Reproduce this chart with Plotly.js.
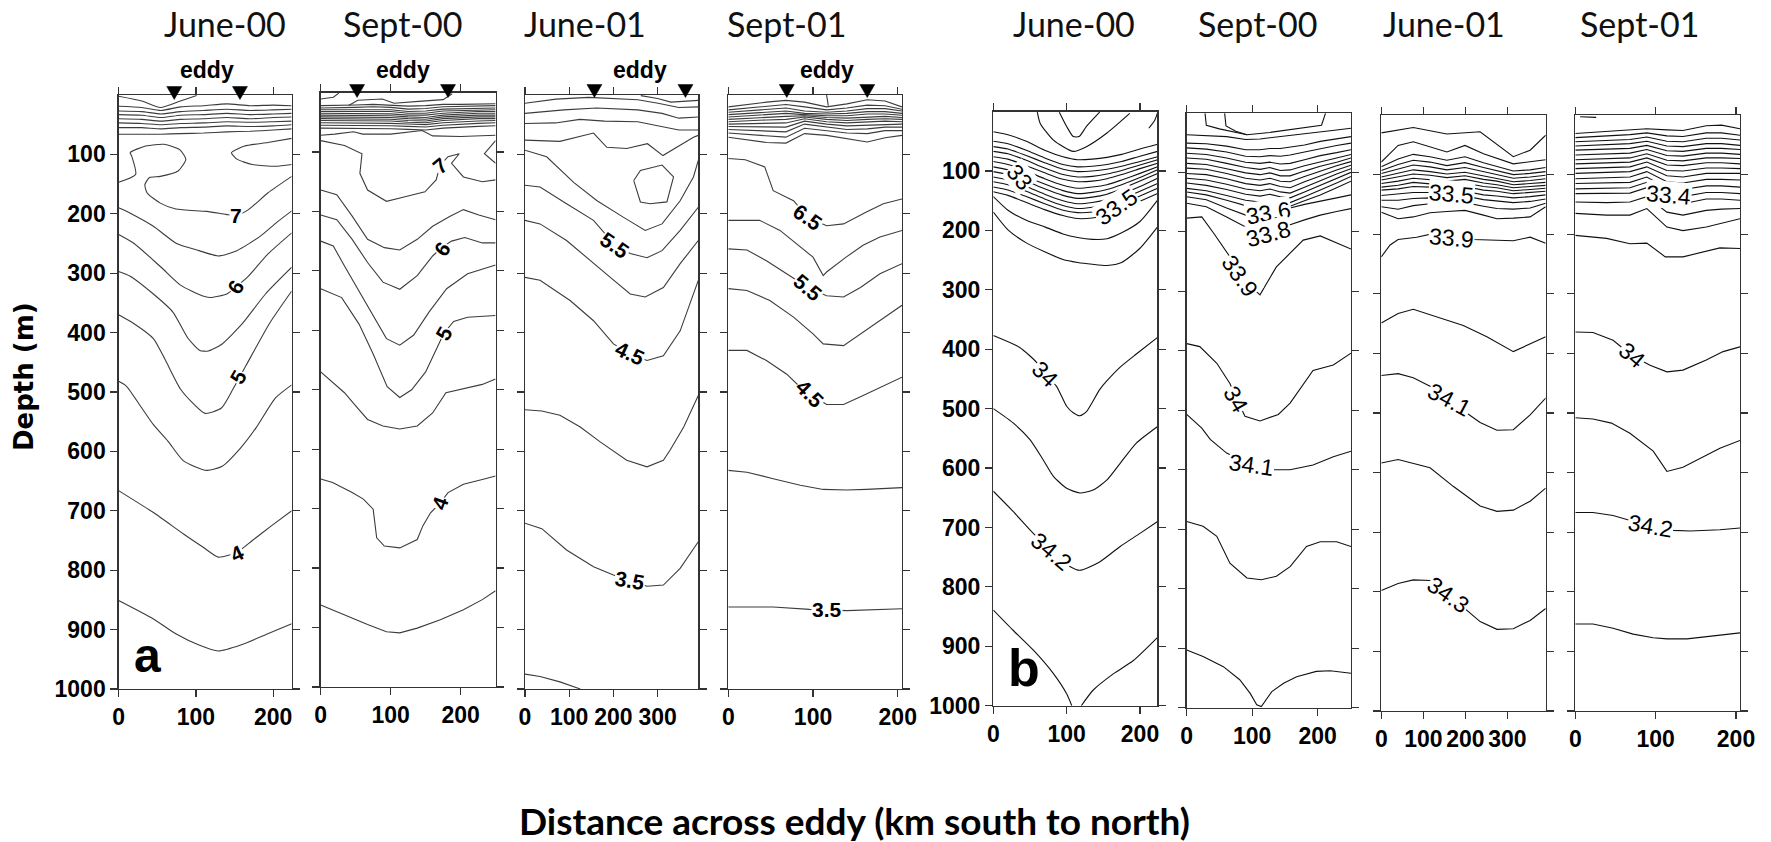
<!DOCTYPE html>
<html><head><meta charset="utf-8">
<script src="https://cdn.plot.ly/plotly-3.0.1.min.js"></script>
<style>html,body{margin:0;padding:0;background:#fff}#chart{width:1771px;height:842px}</style>
</head><body><div id="chart"></div>
<script>
// ---------------- DATA (km across eddy, depth m) ----------------
const panelTitles = ['June-00','Sept-00','June-01','Sept-01','June-00','Sept-00','June-01','Sept-01'];
const xTickVals = [[0,100,200],[0,100,200],[0,100,200,300],[0,100,200],[0,100,200],[0,100,200],[0,100,200,300],[0,100,200]];
const yTickVals = [100,200,300,400,500,600,700,800,900,1000];
const eddyEdges = [[72,157],[52,182],[157,363],[69,164]];

// ---- a1 June-00 temperature ----
const a1_top0 = [[0,2],[30,10],[54,21],[80,10],[101,1]];
const a1_bandX = [0,30,55,80,110,140,170,200,224];
const a1_band = [
 [19,21,26,20,18,15,18,17,18],
 [27,28,32,28,26,24,26,25,24],
 [33,34,38,34,33,31,33,32,31],
 [40,41,44,41,40,38,40,38,37],
 [47,48,50,48,47,45,46,45,44],
 [55,55,57,55,54,52,53,52,50],
 [66,66,66,65,64,62,61,59,57]];
const a1_t7 = [[0,147],[22,134],[17,103],[15,97],[35,86],[59,83],[79,92],[87,108],[77,128],[54,137],[40,139],[34,151],[37,165],[54,182],[74,192],[114,196],[139,201],[152,203],[168,193],[193,165],[224,137]];
const a1_t7r = [[224,73],[193,80],[163,86],[146,97],[153,108],[173,117],[203,120],[224,117]];
const a1_t65 = [[0,190],[15,199],[45,221],[75,250],[104,262],[129,271],[153,262],[183,238],[205,214],[224,195]];
const a1_t6 = [[0,235],[20,250],[55,290],[80,320],[108,338],[118,341],[140,335],[152,323],[168,305],[193,268],[224,232]];
const a1_t55 = [[0,297],[15,305],[45,335],[70,365],[90,410],[105,430],[116,431],[133,420],[160,385],[190,335],[224,290]];
const a1_t5 = [[0,370],[20,385],[45,410],[60,445],[80,495],[97,520],[112,536],[133,527],[148,495],[165,455],[195,385],[224,330]];
const a1_t45 = [[0,482],[10,490],[30,527],[45,555],[64,583],[84,616],[114,632],[134,625],[158,594],[178,560],[203,510],[224,488]];
const a1_t4 = [[0,666],[45,703],[84,739],[109,761],[129,778],[153,770],[173,750],[198,725],[224,700]];
const a1_t35 = [[0,851],[45,882],[74,907],[104,926],[129,936],[158,926],[193,907],[224,890]];
const a1_labels = [['7',152,203,0],['6',152,323,-60],['5',155,474,-60],['4',153,772,-25]];

// ---- a2 Sept-00 temperature ----
const a2_curl = [[0,11],[18,8],[26,1]];
const a2_top = [[40,22],[53,13],[88,11],[105,18],[140,15],[175,12],[188,2]];
const a2_bandX = [0,25,50,75,100,125,150,175,200,225,250];
const a2_band = [
 [22,22,21,20,21,23,22,20,20,19,19],
 [26,26,25,24,25,28,27,24,23,23,22],
 [29,29,29,28,29,32,31,28,27,26,26],
 [32,32,32,31,32,35,35,31,30,29,29],
 [35,35,35,35,36,38,38,35,33,32,32],
 [38,38,38,38,39,41,42,38,36,35,35],
 [41,41,41,41,42,44,45,41,39,38,38],
 [44,44,44,44,45,47,48,44,42,41,41],
 [47,47,47,48,48,50,51,47,45,44,44],
 [51,51,51,51,52,53,54,51,49,48,47],
 [55,55,55,55,56,57,58,55,53,52,51],
 [60,60,60,60,61,62,63,60,58,57,56]];
const a2_t72 = [[0,72],[20,70],[47,66],[60,70],[100,70],[145,64],[160,73],[200,74],[250,72]];
const a2_t7 = [[0,81],[34,89],[59,103],[56,136],[67,164],[94,183],[122,175],[149,167],[165,147],[171,122],[182,108],[198,103],[187,119],[204,142],[231,150],[250,147]];
const a2_t7r = [[250,81],[234,103],[250,119]];
const a2_t65 = [[0,164],[23,172],[45,208],[67,247],[91,261],[113,265],[138,247],[160,225],[185,208],[204,197],[226,206],[250,214]];
const a2_t6 = [[0,206],[23,214],[45,247],[67,286],[89,319],[113,331],[138,308],[160,275],[173,261],[187,250],[206,244],[231,253],[250,253]];
const a2_t55 = [[0,250],[18,258],[34,292],[56,336],[78,381],[94,414],[113,425],[133,408],[155,369],[180,330],[210,305],[250,290]];
const a2_t5 = [[0,330],[30,345],[55,390],[75,440],[95,495],[113,513],[130,500],[150,470],[170,420],[176,405],[190,385],[210,378],[250,375]];
const a2_t45 = [[0,470],[34,505],[50,527],[67,550],[89,561],[113,566],[138,561],[160,539],[179,505],[198,500],[231,491],[250,482]];
const a2_t4 = [[0,650],[17,656],[45,673],[61,684],[75,701],[80,749],[91,763],[113,766],[138,752],[146,729],[157,707],[171,690],[182,673],[204,659],[231,651],[250,645]];
const a2_t35 = [[0,862],[34,879],[67,895],[94,907],[113,909],[138,901],[171,887],[204,870],[231,853],[250,838]];
const a2_labels = [['7',171,122,-40],['6',174,262,-55],['5',176,405,-60],['4',171,690,-70]];

// ---- a3 June-01 temperature ----
const a3_1 = [[0,14],[70,7],[144,4],[208,6],[255,8],[301,14],[348,21],[392,20]];
const a3_2 = [[0,31],[88,25],[162,22],[255,25],[310,31],[348,39],[392,37]];
const a3_3 = [[0,48],[69,47],[124,41],[180,44],[255,45],[310,53],[348,59],[392,59]];
const a3_tr = [[262,1],[300,6],[330,12],[392,9]];
const a3_4 = [[0,76],[79,78],[155,64],[185,88],[230,90],[277,82],[312,102],[381,71],[392,68]];
const a3_5 = [[0,93],[49,104],[110,147],[163,178],[223,206],[272,228],[310,217],[351,178],[381,138],[392,110]];
const a3_loop = [[246,144],[261,127],[310,118],[336,138],[321,180],[283,183],[261,180],[246,144]];
const a3_6 = [[0,152],[34,155],[94,183],[155,211],[204,253],[238,267],[276,274],[310,262],[351,228],[392,189]];
const a3_7 = [[0,211],[34,217],[94,245],[155,284],[193,307],[238,335],[272,340],[313,324],[351,284],[392,245]];
const a3_8 = [[0,307],[34,312],[102,346],[155,380],[200,419],[238,436],[276,447],[313,439],[351,397],[381,335],[392,312]];
const a3_9 = [[0,530],[38,532],[79,539],[125,559],[170,584],[230,615],[276,626],[313,615],[328,598],[359,559],[392,506]];
const a3_10 = [[0,721],[38,730],[94,766],[155,794],[200,808],[238,817],[276,827],[313,825],[351,797],[392,752]];
const a3_11 = [[0,975],[34,979],[79,988],[125,1000]];
const a3_labels = [['5.5',204,253,35],['4.5',238,436,25],['3.5',238,817,10]];

// ---- a4 Sept-01 temperature ----
const a4_bandX = [0,22,45,68,90,116,140,164,185,205];
const a4_band = [
 [20,16,12,9,12,20,15,8,10,20],
 [25,22,18,16,20,25,22,17,18,24],
 [29,27,24,22,27,29,27,23,23,27],
 [33,31,29,27,31,32,31,28,28,31],
 [37,35,33,31,33,35,35,32,32,34],
 [41,39,37,36,35,38,39,37,36,38],
 [45,43,42,41,37,41,43,41,40,41],
 [49,48,47,47,40,45,47,46,44,45],
 [53,53,53,54,44,49,52,51,49,49],
 [58,59,60,62,49,54,58,57,54,54],
 [64,66,68,71,56,60,64,65,60,60],
 [71,76,80,81,65,68,73,79,72,68]];
const a4_v = [[116,0],[118,18]];
const a4_1 = [[0,107],[20,109],[43,121],[53,161],[77,178],[94,206],[116,220],[136,217],[163,197],[183,183],[205,175]];
const a4_2 = [[0,211],[37,211],[61,228],[85,256],[100,273],[112,304],[116,298],[139,273],[159,253],[179,239],[205,228]];
const a4_3 = [[0,259],[22,261],[45,279],[69,301],[94,324],[116,338],[136,340],[156,324],[179,301],[205,284]];
const a4_4 = [[0,326],[22,329],[49,346],[77,374],[100,402],[112,419],[136,422],[156,402],[179,380],[205,354]];
const a4_5 = [[0,430],[22,430],[45,447],[69,470],[85,492],[96,503],[116,521],[136,521],[156,508],[179,492],[205,475]];
const a4_6 = [[0,632],[22,635],[53,646],[85,657],[112,664],[140,665],[163,664],[205,661]];
const a4_7 = [[0,862],[53,862],[96,866],[116,867],[140,868],[205,865]];
const a4_labels = [['6.5',94,206,35],['5.5',94,324,40],['4.5',96,503,45],['3.5',116,866,0]];

// ---- b1 June-00 salinity ----
const b1_V1 = [[90,1],[100,25],[109,42],[117,42],[127,25],[145,1]];
const b1_V2 = [[60,1],[64,20],[82,48],[109,67],[127,59],[155,36],[186,3]];
const b1_rt = [[212,28],[220,15],[223.6,3]];
const b1_bandX = [0,20,45,70,95,115,135,155,175,200,224];
const b1_band = [
 [34,39,50,65,76,81,80,77,72,63,55],
 [50,54,65,78,89,93,92,89,84,75,67],
 [59,63,74,86,97,101,100,97,92,84,76],
 [67,71,82,95,106,110,109,105,99,90,81],
 [76,80,91,103,114,118,117,113,106,96,87],
 [84,89,100,113,124,129,127,123,115,104,93],
 [93,98,109,122,133,138,136,131,123,111,98],
 [101,106,117,130,141,146,144,139,130,117,104],
 [110,115,126,139,150,155,153,148,139,126,112],
 [118,123,134,147,158,163,161,156,147,134,121],
 [127,132,143,155,166,170,169,164,155,142,129],
 [135,141,153,165,175,180,179,174,164,151,138],
 [143,166,183,194,206,212,215,214,204,185,149],
 [169,199,221,236,249,254,257,259,254,230,194]];
const b1_34 = [[0,377],[36,397],[59,422],[70,442],[86,462],[100,496],[109,507],[118,512],[127,505],[145,468],[155,453],[173,430],[195,408],[224,380]];
const b1_341 = [[0,500],[27,524],[50,552],[68,586],[82,614],[100,634],[118,642],[136,637],[155,620],[173,592],[195,558],[224,530]];
const b1_342 = [[0,639],[27,673],[50,704],[80,741],[105,766],[118,772],[145,758],[173,732],[200,710],[224,690]];
const b1_343a = [[0,839],[27,873],[55,907],[82,946],[100,980],[107,1000]];
const b1_343b = [[120,1000],[136,974],[164,946],[191,924],[224,885]];
const b1_labels = [['33',36,110,50],['33.5',168,160,-35],['34',70,442,45],['34.2',80,741,40]];

// ---- b2 Sept-00 salinity ----
const b2_U1 = [[28,1],[30,21],[50,27],[70,32],[92,37],[127,33],[163,27],[206,21],[212,1]];
const b2_U2 = [[58,1],[60,22],[75,31],[92,37]];
const b2_bandX = [0,30,61,90,112,127,143,158,180,204,229,251];
const b2_band = [
 [37,38,40,45,44,42,40,39,36,32,29,26],
 [51,52,56,62,62,60,60,58,54,48,44,40],
 [59,61,66,73,74,72,73,71,66,60,55,51],
 [68,70,76,83,85,83,86,85,79,72,67,62],
 [76,78,85,92,95,92,97,96,89,82,76,70],
 [85,87,94,101,104,101,106,106,98,90,83,76],
 [93,95,102,110,113,110,115,116,107,98,89,82],
 [102,104,111,119,122,119,124,126,116,106,96,88],
 [110,113,120,128,131,128,133,135,125,114,103,94],
 [118,122,129,137,140,137,141,143,133,122,110,100],
 [127,131,139,147,150,147,150,151,141,130,118,107],
 [133,138,147,156,159,156,157,157,148,138,126,115],
 [141,146,160,172,176,170,165,160,154,148,143,138],
 [152,158,175,192,200,203,196,188,180,172,166,161]];
const b2_339 = [[0,177],[23,175],[41,202],[56,225],[66,242],[81,275],[112,306],[122,287],[137,259],[158,236],[178,214],[204,207],[229,219],[251,229]];
const b2_34 = [[0,388],[20,393],[46,421],[66,455],[76,480],[89,510],[112,518],[140,507],[158,488],[173,465],[193,433],[224,424],[251,404]];
const b2_341 = [[0,507],[23,530],[36,549],[61,572],[99,592],[132,600],[158,600],[193,592],[224,578],[251,569]];
const b2_342 = [[0,687],[25,695],[46,712],[66,757],[92,782],[114,785],[137,779],[158,763],[183,729],[204,721],[229,721],[251,729]];
const b2_343 = [[0,903],[25,914],[56,931],[81,953],[97,976],[107,995],[114,998],[130,973],[148,959],[168,948],[198,939],[219,938],[251,942]];
const b2_labels = [['33.6',125,168,-10],['33.8',125,204,-15],['33.9',81,275,55],['34',76,482,60],['34.1',99,592,8]];

// ---- b3 June-01 salinity ----
const b3_1 = [[0,30],[76,21],[156,32],[235,28],[314,70],[354,59],[391,34]];
const b3_2 = [[0,79],[40,51],[76,45],[156,62],[199,51],[243,65],[314,82],[391,75]];
const b3_bandX = [0,40,76,116,156,199,243,275,314,354,391];
const b3_band = [
 [87,74,66,70,76,70,80,86,94,92,88],
 [93,83,76,79,85,80,88,93,100,98,95],
 [98,90,84,87,92,88,95,99,106,104,101],
 [104,98,92,95,99,96,102,106,112,110,107],
 [109,104,99,101,105,102,108,111,117,115,113],
 [115,111,106,108,111,108,114,117,122,120,118],
 [121,118,113,115,118,114,120,122,127,125,123],
 [126,124,120,121,124,120,126,128,132,130,128],
 [135,133,130,130,133,128,134,136,139,137,134],
 [143,143,140,139,141,136,142,144,147,145,141],
 [154,158,152,149,150,147,153,157,158,156,148],
 [163,174,171,164,162,160,168,174,173,171,154]];
const b3_339 = [[0,238],[21,218],[40,209],[84,205],[123,199],[167,207],[219,209],[314,211],[354,205],[391,215]];
const b3_34 = [[0,349],[40,333],[76,326],[140,341],[195,353],[251,372],[314,397],[391,372]];
const b3_341 = [[0,437],[40,434],[76,441],[116,455],[163,478],[203,500],[235,516],[275,529],[314,528],[354,503],[391,475]];
const b3_342 = [[0,584],[40,578],[116,592],[171,623],[235,656],[275,665],[314,663],[354,648],[391,626]];
const b3_343 = [[0,798],[40,786],[76,780],[116,781],[160,805],[235,850],[275,863],[314,862],[354,848],[391,828]];
const b3_labels = [['33.5',167,132,5],['33.9',167,207,5],['34.1',163,478,28],['34.3',160,805,35]];

// ---- b4 Sept-01 salinity ----
const b4_top = [[6,3],[26,4]];
const b4_bandX = [0,39,68,89,114,134,163,182,205];
const b4_band = [
 [31,27,25,23,25,26,18,17,23],
 [38,35,33,30,35,36,30,30,34],
 [45,43,41,37,44,45,39,39,42],
 [52,50,48,44,52,53,48,48,51],
 [59,57,56,51,60,61,56,56,58],
 [67,65,64,58,68,69,64,64,66],
 [75,73,72,65,76,77,72,72,73],
 [82,80,79,72,84,85,80,80,82],
 [90,88,87,79,93,94,89,89,90],
 [98,96,95,87,102,104,98,98,98],
 [107,105,104,95,112,114,108,108,109],
 [115,114,113,104,123,125,119,119,121],
 [124,123,122,113,134,137,130,130,132],
 [132,132,131,122,145,149,141,141,143],
 [146,147,146,137,163,168,160,158,157],
 [165,168,168,157,188,194,188,182,174]];
const b4_a = [[0,202],[39,207],[68,216],[89,215],[112,238],[134,238],[180,223],[205,224]];
const b4_34 = [[0,364],[22,365],[47,378],[70,403],[93,420],[114,431],[134,428],[163,411],[184,397],[205,389]];
const b4_b = [[0,508],[22,510],[45,517],[68,534],[97,564],[114,598],[134,591],[159,573],[180,559],[205,546]];
const b4_342 = [[0,667],[22,667],[47,672],[93,690],[122,697],[143,698],[180,696],[205,693]];
const b4_c = [[0,854],[22,854],[47,861],[72,871],[97,877],[114,879],[139,879],[163,875],[205,869]];
const b4_labels = [['33.4',116,135,5],['34',70,403,40],['34.2',93,690,10]];

// ---------------- LAYOUT GEOMETRY ----------------
const W = 1771, H = 842;
const geo = [
 {x:[118.6,291.6], y:[95,689], xmax:223.8},
 {x:[320.7,495.6], y:[92.5,687], xmax:250},
 {x:[525,698.3], y:[95,689], xmax:392},
 {x:[728.3,902], y:[95,689], xmax:205},
 {x:[993.3,1157.3], y:[111.6,705.7], xmax:223.6},
 {x:[1186.7,1351], y:[112.8,707.7], xmax:251},
 {x:[1381.3,1545.7], y:[115,711], xmax:391},
 {x:[1575.3,1740], y:[115,711], xmax:205}
];
const titleX = [225,402,585,786,1074,1257,1444,1639];
const triTop = [86.5,84.5,84.5,84.5];

function band(xs, rows){ return rows.map(r => r.map((d,i)=>[xs[i], d])); }
const panelLines = [
 [a1_top0, ...band(a1_bandX,a1_band), a1_t7, a1_t7r, a1_t65, a1_t6, a1_t55, a1_t5, a1_t45, a1_t4, a1_t35],
 [a2_curl, a2_top, ...band(a2_bandX,a2_band), a2_t72, a2_t7, a2_t7r, a2_t65, a2_t6, a2_t55, a2_t5, a2_t45, a2_t4, a2_t35],
 [a3_1, a3_2, a3_3, a3_tr, a3_4, a3_5, a3_loop, a3_6, a3_7, a3_8, a3_9, a3_10, a3_11],
 [...band(a4_bandX,a4_band), a4_v, a4_1, a4_2, a4_3, a4_4, a4_5, a4_6, a4_7],
 [b1_V1, b1_V2, b1_rt, ...band(b1_bandX,b1_band), b1_34, b1_341, b1_342, b1_343a, b1_343b],
 [b2_U1, b2_U2, ...band(b2_bandX,b2_band), b2_339, b2_34, b2_341, b2_342, b2_343],
 [b3_1, b3_2, ...band(b3_bandX,b3_band), b3_339, b3_34, b3_341, b3_342, b3_343],
 [b4_top, ...band(b4_bandX,b4_band), b4_a, b4_34, b4_b, b4_342, b4_c]
];
const panelLabels = [a1_labels,a2_labels,a3_labels,a4_labels,b1_labels,b2_labels,b3_labels,b4_labels];
const smooth = [true,false,false,false,true,false,false,false];

const traces = [];
const annotations = [];
const shapes = [];
const layout = {width:W, height:H, margin:{l:0,r:0,t:0,b:0}, paper_bgcolor:'#fff', plot_bgcolor:'#fff',
  showlegend:false, annotations, shapes};

geo.forEach((g,i) => {
  const s = i===0 ? '' : String(i+1);
  const isA = i < 4;
  const lineColor = isA ? '#3c3c3c' : '#111';
  panelLines[i].forEach(pts => traces.push({
    type:'scatter', mode:'lines', x:pts.map(p=>p[0]), y:pts.map(p=>p[1]),
    xaxis:'x'+s, yaxis:'y'+s, hoverinfo:'skip',
    line:{color:lineColor, width:1.1, shape: smooth[i] ? 'spline' : 'linear', smoothing:0.6}
  }));
  const axCommon = {showline:true, linecolor:'#333', linewidth:1.3, mirror:'ticks', ticks:'outside',
    ticklen:7, tickwidth:1.2, tickcolor:'#333', showgrid:false, zeroline:false, fixedrange:true,
    tickfont:{family:'Liberation Sans, Arial, sans-serif', size:23, color:'#000', weight:'bold'}};
  layout['xaxis'+s] = Object.assign({}, axCommon, {
    domain:[g.x[0]/W, g.x[1]/W], range:[0,g.xmax], anchor:'y'+s,
    tickmode:'array', tickvals:xTickVals[i], ticktext:xTickVals[i].map(String)});
  layout['yaxis'+s] = Object.assign({}, axCommon, {
    domain:[1-g.y[1]/H, 1-g.y[0]/H], range:[1000,0], anchor:'x'+s,
    tickmode:'array', tickvals:yTickVals, ticktext:yTickVals.map(String),
    showticklabels: (i===0 || i===4)});
  annotations.push({xref:'paper', yref:'paper', x:titleX[i]/W, y:1-24/H, xanchor:'center', yanchor:'middle',
    text:panelTitles[i], showarrow:false, font:{family:'Lato, Open Sans, sans-serif', size:34, color:'#111'}});
  panelLabels[i].forEach(l => annotations.push({xref:'x'+s, yref:'y'+s, x:l[1], y:l[2], text:l[0],
    textangle:l[3], showarrow:false, bgcolor:'#fff', borderpad:0,
    font: isA ? {family:'Liberation Sans Narrow, Liberation Sans, Arial', size:21, color:'#000', weight:'bold'}
              : {family:'Liberation Sans Narrow, Liberation Sans, Arial', size:23, color:'#000'}}));
  if (isA) {
    const e = eddyEdges[i];
    e.forEach(xv => shapes.push({type:'path', xref:'x'+s, yref:'paper', xsizemode:'pixel', ysizemode:'pixel',
      xanchor:xv, yanchor:1-triTop[i]/H, path:'M-7.5,0 L7.5,0 L0,-13 Z',
      fillcolor:'#000', line:{color:'#000', width:0.5}, layer:'above'}));
    annotations.push({xref:'x'+s, yref:'paper', x:(e[0]+e[1])/2, y:1-70/H, text:'eddy', showarrow:false,
      xanchor:'center', yanchor:'middle', font:{family:'Liberation Sans, Arial', size:23, color:'#000', weight:'bold'}});
  }
});

annotations.push({xref:'x', yref:'y', x:37, y:943, text:'a', showarrow:false,
  font:{family:'Liberation Sans Narrow, Liberation Sans, Arial', size:48, color:'#000', weight:'bold'}});
annotations.push({xref:'x5', yref:'y5', x:41.5, y:937, text:'b', showarrow:false,
  font:{family:'Liberation Sans Narrow, Liberation Sans, Arial', size:52, color:'#000', weight:'bold'}});
annotations.push({xref:'paper', yref:'paper', x:854/W, y:1-820/H, xanchor:'center', yanchor:'middle',
  text:'Distance across eddy (km south to north)', showarrow:false,
  font:{family:'Lato, Open Sans, sans-serif', size:37, color:'#000', weight:'bold'}});
annotations.push({xref:'paper', yref:'paper', x:24/W, y:1-377/H, xanchor:'center', yanchor:'middle',
  text:'Depth (m)', textangle:-90, showarrow:false,
  font:{family:'DejaVu Sans, Liberation Sans, sans-serif', size:26, color:'#000', weight:'bold'}});

Plotly.newPlot('chart', traces, layout, {staticPlot:true, displayModeBar:false});
</script></body></html>
